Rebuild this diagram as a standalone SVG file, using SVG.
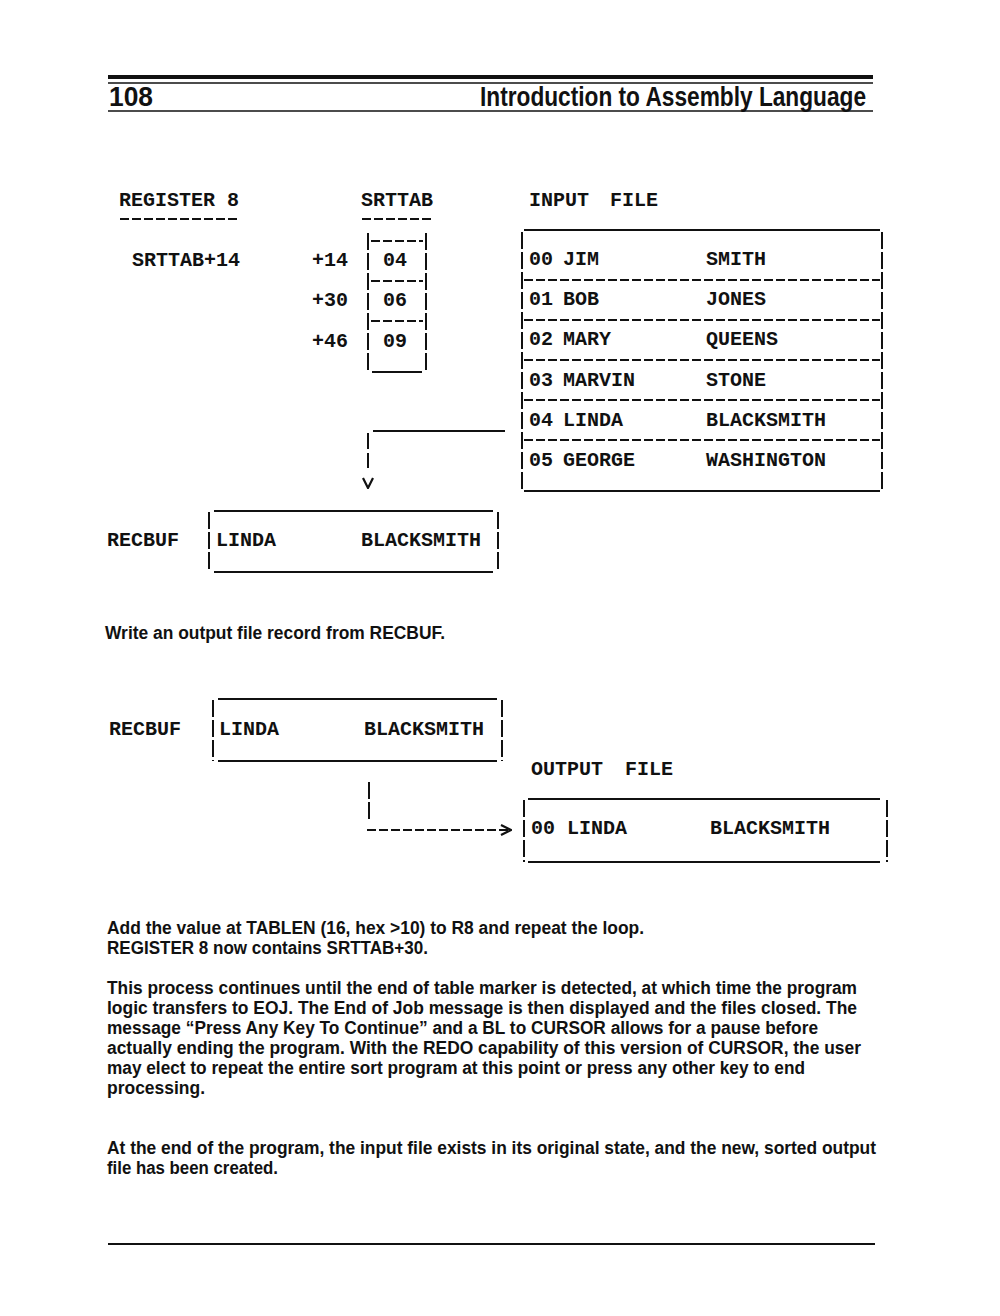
<svg xmlns="http://www.w3.org/2000/svg" width="1000" height="1316" viewBox="0 0 1000 1316">
<defs>
<style>
.m{font-family:"Liberation Mono","Courier New",monospace;font-size:20px;font-weight:bold;fill:#111;font-variant-numeric:slashed-zero}
.p{font-family:"Liberation Sans",Arial,sans-serif;font-size:18px;font-weight:bold;fill:#111}
.h{font-family:"Liberation Sans",Arial,sans-serif;font-size:27px;font-weight:bold;fill:#111}
.ln{stroke:#111;stroke-width:2;fill:none}
.dl{stroke:#111;stroke-width:2;fill:none;stroke-dasharray:9 3}
.vb{stroke:#111;stroke-width:2;fill:none;stroke-dasharray:17 3}
</style>
<marker id="ah" viewBox="0 0 12 12" refX="11" refY="6" markerWidth="12" markerHeight="12" markerUnits="userSpaceOnUse" orient="auto">
<path d="M1,1 L11,6 L1,11" fill="none" stroke="#111" stroke-width="2.2"/>
</marker>
</defs>
<rect width="1000" height="1316" fill="#fff"/>

<g id="header">
<rect x="108" y="75" width="765" height="4" fill="#111"/>
<line x1="108" y1="83" x2="873" y2="83" stroke="#111" stroke-width="1.5"/>
<text class="h" x="109" y="106" textLength="44" lengthAdjust="spacingAndGlyphs">108</text>
<text class="h" x="866" y="106" text-anchor="end" textLength="386" lengthAdjust="spacingAndGlyphs">Introduction to Assembly Language</text>
<line x1="108" y1="111" x2="873" y2="111" stroke="#111" stroke-width="1.5"/>
</g>

<g id="register8">
<text class="m" x="119" y="206">REGISTER 8</text>
<line class="dl" x1="120" y1="219" x2="240" y2="219"/>
<text class="m" x="132" y="266">SRTTAB+14</text>
</g>

<g id="srttab">
<text class="m" x="361" y="206">SRTTAB</text>
<line class="dl" x1="362" y1="219" x2="432" y2="219"/>
<line class="vb" x1="368" y1="233" x2="368" y2="373"/>
<line class="vb" x1="426" y1="233" x2="426" y2="373"/>
<line class="dl" x1="371" y1="241" x2="423" y2="241"/>
<line class="dl" x1="371" y1="281" x2="423" y2="281"/>
<line class="dl" x1="371" y1="321" x2="423" y2="321"/>
<line class="ln" x1="372" y1="372" x2="422" y2="372"/>
<text class="m" x="312" y="266">+14</text>
<text class="m" x="312" y="306">+30</text>
<text class="m" x="312" y="347">+46</text>
<text class="m" x="383" y="266">04</text>
<text class="m" x="383" y="306">06</text>
<text class="m" x="383" y="347">09</text>
</g>

<g id="inputfile">
<text class="m" x="529" y="206">INPUT</text>
<text class="m" x="610" y="206">FILE</text>
<line class="ln" x1="524" y1="230" x2="880" y2="230"/>
<line class="ln" x1="524" y1="491" x2="880" y2="491"/>
<line class="vb" x1="522" y1="232" x2="522" y2="492"/>
<line class="vb" x1="882" y1="232" x2="882" y2="492"/>
<line class="dl" x1="524" y1="280" x2="880" y2="280"/>
<line class="dl" x1="524" y1="320" x2="880" y2="320"/>
<line class="dl" x1="524" y1="360" x2="880" y2="360"/>
<line class="dl" x1="524" y1="400" x2="880" y2="400"/>
<line class="dl" x1="524" y1="440" x2="880" y2="440"/>
<text class="m" x="529" y="265">00</text><text class="m" x="563" y="265">JIM</text><text class="m" x="706" y="265">SMITH</text>
<text class="m" x="529" y="305">01</text><text class="m" x="563" y="305">BOB</text><text class="m" x="706" y="305">JONES</text>
<text class="m" x="529" y="345">02</text><text class="m" x="563" y="345">MARY</text><text class="m" x="706" y="345">QUEENS</text>
<text class="m" x="529" y="386">03</text><text class="m" x="563" y="386">MARVIN</text><text class="m" x="706" y="386">STONE</text>
<text class="m" x="529" y="426">04</text><text class="m" x="563" y="426">LINDA</text><text class="m" x="706" y="426">BLACKSMITH</text>
<text class="m" x="529" y="466">05</text><text class="m" x="563" y="466">GEORGE</text><text class="m" x="706" y="466">WASHINGTON</text>
</g>

<g id="recbuf1">
<text class="m" x="107" y="546">RECBUF</text>
<line class="ln" x1="214" y1="511" x2="493" y2="511"/>
<line class="ln" x1="214" y1="572" x2="493" y2="572"/>
<line class="vb" x1="209" y1="512" x2="209" y2="572"/>
<line class="vb" x1="498" y1="512" x2="498" y2="572"/>
<text class="m" x="216" y="546">LINDA</text>
<text class="m" x="361" y="546">BLACKSMITH</text>
</g>

<g id="note1">
<text class="p" x="105" y="639" textLength="340" lengthAdjust="spacingAndGlyphs">Write an output file record from RECBUF.</text>
</g>

<g id="recbuf2">
<text class="m" x="109" y="735">RECBUF</text>
<line class="ln" x1="218" y1="699" x2="497" y2="699"/>
<line class="ln" x1="218" y1="761" x2="497" y2="761"/>
<line class="vb" x1="213" y1="700" x2="213" y2="761"/>
<line class="vb" x1="502" y1="700" x2="502" y2="761"/>
<text class="m" x="219" y="735">LINDA</text>
<text class="m" x="364" y="735">BLACKSMITH</text>
</g>

<g id="outputfile">
<text class="m" x="531" y="775">OUTPUT</text>
<text class="m" x="625" y="775">FILE</text>
<line class="ln" x1="528" y1="799" x2="880" y2="799"/>
<line class="ln" x1="528" y1="862" x2="880" y2="862"/>
<line class="vb" x1="524" y1="800" x2="524" y2="862"/>
<line class="vb" x1="887" y1="800" x2="887" y2="862"/>
<text class="m" x="531" y="834">00</text>
<text class="m" x="567" y="834">LINDA</text>
<text class="m" x="710" y="834">BLACKSMITH</text>
</g>

<g id="connectors">
<polyline class="ln" points="505,431 373,431"/>
<line x1="368" y1="433" x2="368" y2="488" stroke="#111" stroke-width="2" stroke-dasharray="16 4 15 100" marker-end="url(#ah)"/>
<line class="vb" x1="369" y1="782" x2="369" y2="819"/>
<line class="dl" x1="367" y1="830" x2="511" y2="830" marker-end="url(#ah)"/>
</g>

<g id="body">
<text class="p" x="107" y="934" textLength="537" lengthAdjust="spacingAndGlyphs">Add the value at TABLEN (16, hex &gt;10) to R8 and repeat the loop.</text>
<text class="p" x="107" y="954" textLength="321" lengthAdjust="spacingAndGlyphs">REGISTER 8 now contains SRTTAB+30.</text>
<text class="p" x="107" y="994" textLength="750" lengthAdjust="spacingAndGlyphs">This process continues until the end of table marker is detected, at which time the program</text>
<text class="p" x="107" y="1014" textLength="750" lengthAdjust="spacingAndGlyphs">logic transfers to EOJ. The End of Job message is then displayed and the files closed. The</text>
<text class="p" x="107" y="1034" textLength="711" lengthAdjust="spacingAndGlyphs">message “Press Any Key To Continue” and a BL to CURSOR allows for a pause before</text>
<text class="p" x="107" y="1054" textLength="754" lengthAdjust="spacingAndGlyphs">actually ending the program. With the REDO capability of this version of CURSOR, the user</text>
<text class="p" x="107" y="1074" textLength="698" lengthAdjust="spacingAndGlyphs">may elect to repeat the entire sort program at this point or press any other key to end</text>
<text class="p" x="107" y="1094" textLength="98" lengthAdjust="spacingAndGlyphs">processing.</text>
<text class="p" x="107" y="1154" textLength="769" lengthAdjust="spacingAndGlyphs">At the end of the program, the input file exists in its original state, and the new, sorted output</text>
<text class="p" x="107" y="1174" textLength="171" lengthAdjust="spacingAndGlyphs">file has been created.</text>
</g>

<g id="footer">
<line x1="108" y1="1244" x2="875" y2="1244" stroke="#111" stroke-width="2"/>
</g>
</svg>
